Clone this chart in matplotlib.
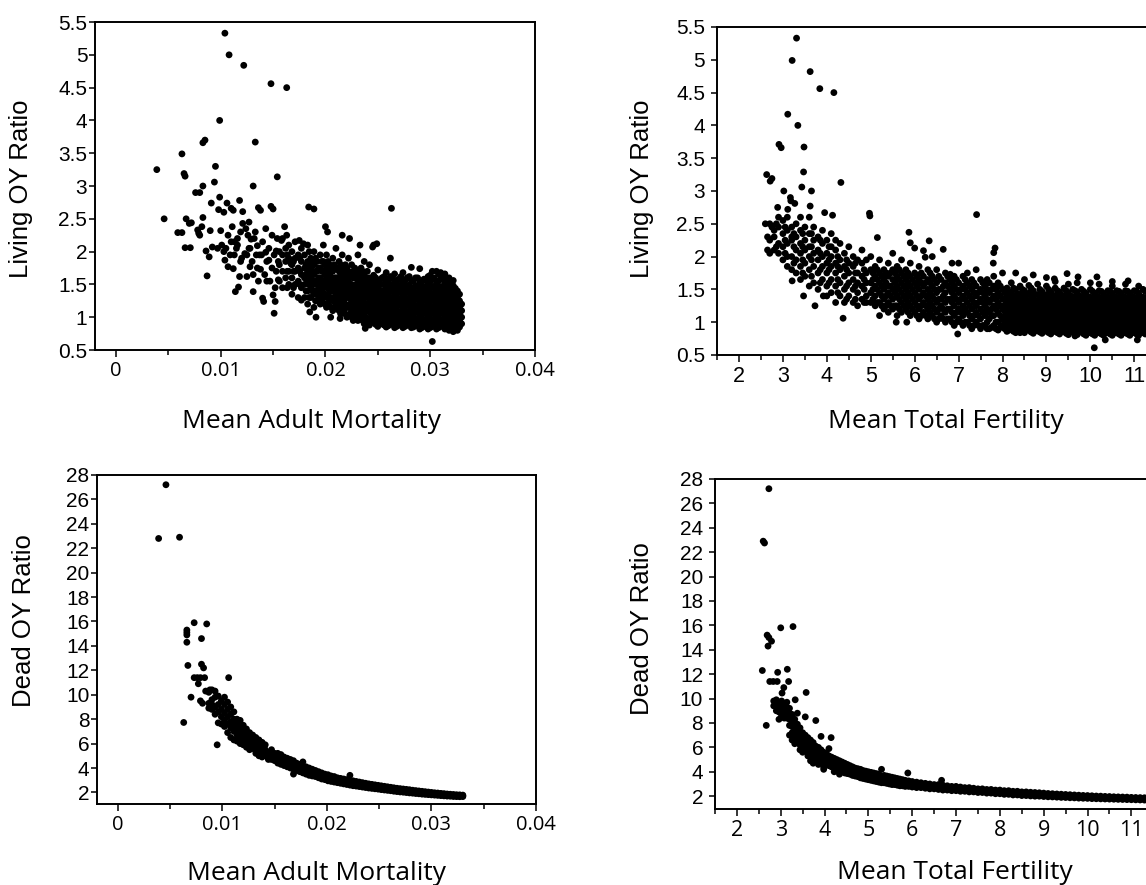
import matplotlib
matplotlib.use('Agg')
import matplotlib.pyplot as plt
from matplotlib.ticker import FixedLocator, MultipleLocator

# ---------------- data ----------------
# top-left: mean adult mortality vs living OY ratio (scattered points)
mort_liv_x = [0.0039, 0.0046, 0.0059, 0.0063, 0.0063, 0.0065, 0.0066, 0.0066, 0.0071, 0.0067,
              0.0070, 0.0072, 0.0076, 0.0080, 0.0078, 0.0080, 0.0079, 0.0083, 0.0085, 0.0083,
              0.0083, 0.0082, 0.0087, 0.0086, 0.0089, 0.0090, 0.0091, 0.0094, 0.0095, 0.0092,
              0.0097, 0.0098, 0.0099, 0.0099, 0.0100, 0.0101, 0.0103, 0.0103, 0.0104, 0.0106,
              0.0104, 0.0107, 0.0108, 0.0110, 0.0112, 0.0111, 0.0112, 0.0114, 0.0117, 0.0115,
              0.0118, 0.0119, 0.0121, 0.0118, 0.0122, 0.0121, 0.0123, 0.0125, 0.0126, 0.0128,
              0.0129, 0.0131, 0.0131, 0.0133, 0.0133, 0.0135, 0.0136, 0.0138, 0.0138, 0.0140,
              0.0141, 0.0143, 0.0146, 0.0148, 0.0148, 0.0150, 0.0150, 0.0152, 0.0151, 0.0153,
              0.0154, 0.0155, 0.0158, 0.0161, 0.0163, 0.0163, 0.0167, 0.0175, 0.0179, 0.0177,
              0.0184, 0.0189, 0.0185, 0.0191, 0.0200, 0.0202, 0.0205, 0.0214, 0.0216, 0.0223,
              0.0233, 0.0245, 0.0249, 0.0263, 0.0262, 0.0238, 0.0302, 0.0116, 0.0109, 0.0127,
              0.0134, 0.0124, 0.0144, 0.0139, 0.0113, 0.0119, 0.0105,
              0.0125, 0.0128, 0.0130, 0.0132, 0.0135, 0.0137, 0.0140, 0.0142, 0.0144, 0.0146,
              0.0147, 0.0149, 0.0151, 0.0152, 0.0153, 0.0154, 0.0155, 0.0149, 0.0143, 0.0136,
              0.0131, 0.0127, 0.0120, 0.0116, 0.0110, 0.0107, 0.0113]
mort_liv_y = [3.25, 2.50, 2.29, 2.29, 3.49, 3.19, 3.15, 2.06, 2.06, 2.50,
              2.43, 2.44, 2.90, 2.90, 2.33, 2.25, 2.28, 3.66, 3.70, 3.00,
              2.52, 2.38, 1.63, 2.01, 1.92, 2.32, 2.74, 3.06, 3.30, 2.07,
              2.05, 2.64, 2.83, 4.00, 2.32, 2.10, 2.00, 2.60, 5.33, 2.74,
              1.87, 1.77, 5.00, 2.66, 2.63, 2.38, 1.74, 1.39, 1.46, 2.05,
              2.78, 2.30, 2.43, 1.62, 4.84, 2.61, 1.97, 1.62, 2.25, 1.77,
              2.19, 3.00, 1.39, 3.67, 2.30, 2.09, 2.67, 2.63, 1.73, 1.29,
              1.24, 1.99, 1.87, 4.56, 2.69, 2.65, 1.34, 1.24, 1.06, 2.01,
              3.14, 1.57, 2.17, 2.38, 4.50, 2.25, 1.82, 2.17, 2.12, 1.26,
              2.68, 2.65, 1.08, 1.00, 2.38, 2.30, 1.00, 0.98, 2.25, 2.20,
              2.10, 2.07, 2.12, 2.66, 1.90, 0.83, 0.63, 2.20, 1.95, 2.05,
              1.95, 2.35, 1.55, 1.95, 2.15, 1.85, 2.05,
              1.95, 2.05, 1.85, 2.20, 1.75, 1.95, 2.15, 1.65, 1.85, 2.05,
              1.55, 1.75, 1.95, 1.45, 1.70, 2.20, 1.85, 2.25, 2.35, 1.55,
              1.65, 2.45, 1.90, 2.10, 2.15, 2.25, 1.95]
# denser part, column by column (x, living ratios)
mort_liv_cols = [
    (0.0156, [1.55, 1.80, 2.00]), (0.0159, [1.45, 1.70, 1.95, 2.20]),
    (0.0162, [1.60, 1.85, 2.05]), (0.0165, [1.50, 1.70, 1.90, 2.10]),
    (0.0168, [1.35, 1.60, 1.80, 2.00]), (0.0171, [1.50, 1.70, 1.90, 2.15]),
    (0.0174, [1.30, 1.55, 1.75, 1.95]), (0.0177, [1.45, 1.65, 1.85, 2.05]),
    (0.0180, [1.30, 1.50, 1.60, 1.75, 1.95]), (0.0183, [1.20, 1.40, 1.55, 1.70, 1.85, 2.10]),
    (0.0186, [1.30, 1.45, 1.60, 1.75, 1.90]), (0.0189, [1.15, 1.35, 1.50, 1.65, 1.80, 2.00]),
    (0.0192, [1.25, 1.40, 1.55, 1.70, 1.85]), (0.0195, [1.20, 1.35, 1.50, 1.60, 1.75, 1.95]),
    (0.0198, [1.30, 1.45, 1.55, 1.70, 1.85, 2.10]), (0.0201, [1.15, 1.30, 1.45, 1.60, 1.75, 1.95]),
    (0.0204, [1.25, 1.40, 1.50, 1.65, 1.80]), (0.0207, [1.10, 1.25, 1.40, 1.55, 1.70, 1.90]),
    (0.0210, [1.20, 1.35, 1.50, 1.60, 1.75, 2.05]), (0.0213, [1.10, 1.25, 1.40, 1.55, 1.70, 1.85]),
    (0.0216, [1.15, 1.30, 1.45, 1.60, 1.75, 1.95]), (0.0219, [1.05, 1.20, 1.35, 1.50, 1.65, 1.80]),
    (0.0222, [1.15, 1.30, 1.40, 1.55, 1.70, 1.90]), (0.0225, [1.00, 1.10, 1.25, 1.40, 1.50, 1.65, 1.80]),
    (0.0228, [1.05, 1.20, 1.35, 1.45, 1.60, 1.75]), (0.0231, [0.95, 1.10, 1.25, 1.40, 1.55, 1.70, 1.95]),
    (0.0234, [1.00, 1.15, 1.30, 1.45, 1.60, 1.75]), (0.0237, [0.90, 1.05, 1.20, 1.35, 1.50, 1.65, 1.85]),
    (0.0240, [0.95, 1.10, 1.20, 1.30, 1.40, 1.55, 1.70]),
    (0.0242, [0.88, 0.98, 1.08, 1.18, 1.28, 1.38, 1.48, 1.60, 1.80]),
    (0.0246, [0.92, 1.02, 1.12, 1.22, 1.32, 1.42, 1.52, 1.64, 2.10]),
    (0.0250, [0.86, 0.96, 1.06, 1.16, 1.26, 1.36, 1.46, 1.56, 1.72]),
    (0.0254, [0.90, 1.00, 1.10, 1.20, 1.30, 1.40, 1.50, 1.60]),
    (0.0258, [0.85, 0.95, 1.05, 1.15, 1.25, 1.35, 1.45, 1.55, 1.68]),
    (0.0262, [0.90, 1.00, 1.10, 1.20, 1.30, 1.40, 1.50, 1.62]),
    (0.0266, [0.84, 0.94, 1.04, 1.14, 1.24, 1.34, 1.44, 1.54, 1.66]),
    (0.0270, [0.88, 0.98, 1.08, 1.18, 1.28, 1.38, 1.48, 1.58]),
    (0.0274, [0.84, 0.94, 1.04, 1.14, 1.24, 1.34, 1.44, 1.54, 1.68]),
    (0.0278, [0.88, 0.98, 1.08, 1.18, 1.28, 1.38, 1.48, 1.60]),
    (0.0282, [0.84, 0.94, 1.04, 1.14, 1.24, 1.34, 1.44, 1.56, 1.76]),
    (0.0286, [0.88, 0.98, 1.08, 1.18, 1.28, 1.38, 1.48, 1.60]),
    (0.0290, [0.82, 0.92, 1.02, 1.12, 1.22, 1.32, 1.42, 1.52, 1.74]),
    (0.0294, [0.86, 0.96, 1.06, 1.16, 1.26, 1.36, 1.46, 1.58]),
    (0.0298, [0.82, 0.92, 1.02, 1.12, 1.22, 1.32, 1.42, 1.52, 1.62]),
    (0.0302, [0.86, 0.96, 1.06, 1.16, 1.26, 1.36, 1.46, 1.58, 1.70]),
    (0.0306, [0.82, 0.92, 1.02, 1.12, 1.22, 1.32, 1.42, 1.52, 1.70]),
    (0.0310, [0.86, 0.96, 1.06, 1.16, 1.26, 1.36, 1.46, 1.58, 1.68]),
    (0.0314, [0.82, 0.92, 1.02, 1.12, 1.22, 1.32, 1.42, 1.52, 1.66]),
    (0.0318, [0.80, 0.90, 1.00, 1.10, 1.20, 1.30, 1.40, 1.50, 1.60]),
    (0.0322, [0.78, 0.88, 0.98, 1.08, 1.18, 1.28, 1.38, 1.48, 1.56]),
    (0.0326, [0.80, 0.90, 1.00, 1.10, 1.20, 1.30, 1.40]),
    (0.0330, [0.90, 1.00, 1.10, 1.20]),
]
# points lying between the columns above
mort_liv_fill = [
    (0.01635, [1.45, 1.70, 1.95]), (0.01695, [1.45, 1.70, 1.85]),
    (0.01755, [1.50, 1.70, 1.90]), (0.01815, [1.40, 1.65, 1.80]),
    (0.01845, [1.30, 1.50, 1.65, 1.80, 2.00]), (0.01875, [1.40, 1.55, 1.70, 1.85]),
    (0.01905, [1.25, 1.40, 1.55, 1.70, 1.90]), (0.01935, [1.30, 1.45, 1.60, 1.75]),
    (0.01965, [1.25, 1.40, 1.55, 1.70, 1.85]), (0.01995, [1.20, 1.35, 1.50, 1.65, 1.80]),
    (0.02025, [1.20, 1.35, 1.55, 1.70, 1.85]), (0.02055, [1.15, 1.30, 1.45, 1.60, 1.75]),
    (0.02085, [1.15, 1.30, 1.45, 1.60, 1.80]), (0.02115, [1.15, 1.30, 1.45, 1.60, 1.75]),
    (0.02145, [1.05, 1.20, 1.35, 1.50, 1.65, 1.80]), (0.02175, [1.10, 1.25, 1.40, 1.55, 1.70]),
    (0.02205, [1.00, 1.15, 1.30, 1.45, 1.60, 1.75]), (0.02235, [1.05, 1.20, 1.35, 1.50, 1.65]),
    (0.02265, [0.95, 1.15, 1.30, 1.45, 1.60, 1.70]), (0.02295, [1.00, 1.15, 1.30, 1.50, 1.65]),
    (0.02325, [1.05, 1.20, 1.35, 1.50, 1.65]), (0.02355, [0.95, 1.10, 1.25, 1.40, 1.55, 1.70]),
    (0.02385, [1.00, 1.15, 1.30, 1.45, 1.60]),
    (0.0244, [0.93, 1.03, 1.13, 1.23, 1.33, 1.43, 1.55]),
    (0.0248, [0.89, 0.99, 1.09, 1.19, 1.29, 1.39, 1.49, 1.60]),
    (0.0252, [0.91, 1.01, 1.11, 1.21, 1.31, 1.41, 1.51]),
    (0.0256, [0.88, 0.98, 1.08, 1.18, 1.28, 1.38, 1.50, 1.62]),
    (0.0260, [0.87, 0.97, 1.07, 1.17, 1.27, 1.37, 1.47, 1.57]),
    (0.0264, [0.89, 0.99, 1.09, 1.19, 1.29, 1.39, 1.49, 1.60]),
    (0.0268, [0.86, 0.96, 1.06, 1.16, 1.26, 1.36, 1.46, 1.56]),
    (0.0272, [0.89, 0.99, 1.09, 1.19, 1.29, 1.39, 1.49, 1.62]),
    (0.0276, [0.86, 0.96, 1.06, 1.16, 1.26, 1.36, 1.46, 1.56]),
    (0.0280, [0.89, 0.99, 1.09, 1.19, 1.29, 1.39, 1.49, 1.62]),
    (0.0284, [0.85, 0.95, 1.05, 1.15, 1.25, 1.35, 1.45, 1.55]),
    (0.0288, [0.87, 0.97, 1.07, 1.17, 1.27, 1.37, 1.47, 1.60]),
    (0.0292, [0.84, 0.94, 1.04, 1.14, 1.24, 1.34, 1.44, 1.54]),
    (0.0296, [0.87, 0.97, 1.07, 1.17, 1.27, 1.37, 1.47, 1.58]),
    (0.0300, [0.84, 0.94, 1.04, 1.14, 1.24, 1.34, 1.44, 1.54, 1.64]),
    (0.0304, [0.87, 0.97, 1.07, 1.17, 1.27, 1.37, 1.47, 1.60]),
    (0.0308, [0.84, 0.94, 1.04, 1.14, 1.24, 1.34, 1.44, 1.55, 1.66]),
    (0.0312, [0.87, 0.97, 1.07, 1.17, 1.27, 1.37, 1.47, 1.60]),
    (0.0316, [0.84, 0.94, 1.04, 1.14, 1.24, 1.34, 1.44, 1.55]),
    (0.0320, [0.83, 0.93, 1.03, 1.13, 1.23, 1.33, 1.43, 1.53]),
    (0.0324, [0.84, 0.94, 1.04, 1.14, 1.24, 1.34, 1.44]),
    (0.0328, [0.85, 0.95, 1.05, 1.15, 1.25, 1.35]),
]

# top-right: mean total fertility vs living OY ratio
fert_liv_x = [3.31, 3.21, 3.62, 3.84, 4.16, 3.11, 3.34, 2.91, 2.96, 3.48,
              2.63, 2.75, 2.71, 3.47, 4.32, 3.43, 3.65, 3.02, 3.17, 3.18,
              3.27, 2.88, 3.11, 3.62, 2.60, 2.75, 3.95, 4.13, 4.97, 4.98,
              7.41, 5.87, 5.15, 7.83, 7.80, 7.79, 6.81, 10.09, 4.37, 3.73,
              3.47, 3.21, 3.92, 5.58, 5.82, 6.98, 6.33, 6.65, 5.90, 6.00,
              6.20, 6.24, 6.85, 9.47, 9.18, 9.72, 10.15, 10.86, 11.10, 10.50,
              8.40, 9.65, 10.34, 11.07]
fert_liv_y = [5.33, 4.99, 4.82, 4.56, 4.50, 4.17, 4.00, 3.71, 3.66, 3.67,
              3.25, 3.19, 3.15, 3.29, 3.13, 3.06, 3.00, 3.00, 2.90, 2.85,
              2.81, 2.75, 2.72, 2.77, 2.50, 2.45, 2.67, 2.63, 2.66, 2.62,
              2.64, 2.37, 2.29, 2.13, 2.06, 1.90, 1.73, 0.61, 1.06, 1.25,
              1.40, 1.63, 1.40, 1.00, 1.00, 0.82, 2.24, 2.11, 2.21, 2.13,
              2.09, 1.99, 1.90, 1.74, 1.66, 1.69, 1.69, 1.63, 1.55, 1.62,
              0.84, 0.79, 0.73, 0.73]
fert_liv_cols = [
    (2.65, [2.30, 2.10]), (2.70, [2.50, 2.25, 2.05]), (2.80, [2.30, 2.10, 2.40]),
    (2.90, [2.20, 2.45, 2.05, 2.60]), (3.00, [1.95, 2.15, 2.35, 2.55]),
    (3.10, [2.00, 2.20, 2.40, 2.60, 1.85]), (3.20, [1.80, 2.00, 2.25, 2.45, 2.30]),
    (3.30, [1.75, 1.95, 2.10, 2.30, 2.50]), (3.40, [1.85, 2.05, 2.20, 2.40, 2.60, 1.65]),
    (3.50, [1.70, 1.90, 2.10, 2.25, 2.45]), (3.60, [1.55, 1.80, 2.00, 2.15, 2.35, 2.60]),
    (3.70, [1.60, 1.85, 2.05, 2.25, 2.45]), (3.80, [1.50, 1.75, 1.95, 2.10, 2.30]),
    (3.90, [1.65, 1.85, 2.00, 2.20, 2.40]), (4.00, [1.55, 1.75, 1.90, 2.05, 2.25, 1.40]),
    (4.10, [1.45, 1.65, 1.85, 2.00, 2.15, 2.35]), (4.20, [1.55, 1.75, 1.90, 2.10, 2.25, 1.30]),
    (4.30, [1.40, 1.60, 1.80, 1.95, 2.20]), (4.40, [1.50, 1.70, 1.85, 2.05, 1.30]),
    (4.50, [1.40, 1.60, 1.75, 1.90, 2.15]), (4.60, [1.30, 1.50, 1.65, 1.85, 2.00]),
    (4.70, [1.45, 1.60, 1.75, 1.95, 1.25]), (4.80, [1.35, 1.55, 1.70, 1.90, 2.10]),
    (4.90, [1.40, 1.60, 1.75, 1.95, 1.30]), (5.00, [1.30, 1.45, 1.60, 1.80, 2.00]),
    (5.10, [1.25, 1.40, 1.55, 1.70, 1.85]), (5.20, [1.30, 1.45, 1.60, 1.75, 1.95, 1.10]),
    (5.30, [1.20, 1.35, 1.50, 1.65, 1.80]), (5.40, [1.30, 1.45, 1.55, 1.70, 1.90, 1.15]),
    (5.50, [1.20, 1.35, 1.50, 1.65, 1.80, 2.05]), (5.60, [1.25, 1.40, 1.55, 1.70, 1.85, 1.10]),
    (5.70, [1.15, 1.30, 1.45, 1.60, 1.75, 1.95]), (5.80, [1.20, 1.35, 1.50, 1.65, 1.80]),
    (5.90, [1.10, 1.25, 1.40, 1.55, 1.70, 1.90]), (6.00, [1.15, 1.30, 1.45, 1.60, 1.75]),
    (6.10, [1.05, 1.20, 1.35, 1.50, 1.65, 1.85]), (6.20, [1.15, 1.30, 1.45, 1.55, 1.70]),
    (6.30, [1.05, 1.20, 1.35, 1.50, 1.65, 1.80]), (6.40, [1.10, 1.25, 1.40, 1.55, 1.70, 2.00]),
    (6.50, [1.00, 1.15, 1.30, 1.45, 1.60, 1.80]), (6.60, [1.10, 1.25, 1.35, 1.50, 1.65]),
    (6.70, [1.00, 1.15, 1.30, 1.45, 1.60, 1.75]), (6.80, [1.05, 1.20, 1.35, 1.50, 1.65]),
    (6.90, [0.95, 1.10, 1.25, 1.40, 1.55, 1.70]), (7.00, [1.05, 1.20, 1.30, 1.45, 1.60, 1.90]),
    (7.10, [0.95, 1.10, 1.25, 1.40, 1.55, 1.70]), (7.20, [1.00, 1.15, 1.30, 1.45, 1.60, 1.75]),
    (7.30, [0.90, 1.05, 1.20, 1.35, 1.50, 1.65]), (7.40, [1.00, 1.15, 1.25, 1.40, 1.55, 1.80]),
    (7.50, [0.90, 1.05, 1.20, 1.35, 1.50, 1.65]), (7.60, [0.95, 1.10, 1.25, 1.40, 1.55]),
    (7.70, [0.90, 1.05, 1.15, 1.30, 1.45, 1.60]), (7.80, [0.95, 1.10, 1.25, 1.40, 1.55, 1.70]),
    (7.90, [0.88, 1.00, 1.15, 1.30, 1.45, 1.60]), (8.00, [0.95, 1.05, 1.20, 1.35, 1.50, 1.75]),
    (8.10, [0.86, 0.95, 1.04, 1.13, 1.22, 1.31, 1.40, 1.52]),
    (8.20, [0.90, 0.99, 1.08, 1.17, 1.26, 1.35, 1.46, 1.60]),
    (8.30, [0.84, 0.93, 1.02, 1.11, 1.20, 1.29, 1.38, 1.50, 1.75]),
    (8.40, [0.88, 0.97, 1.06, 1.15, 1.24, 1.33, 1.42, 1.55]),
    (8.50, [0.84, 0.93, 1.02, 1.11, 1.20, 1.29, 1.38, 1.48, 1.65]),
    (8.60, [0.88, 0.97, 1.06, 1.15, 1.24, 1.33, 1.44, 1.56]),
    (8.70, [0.83, 0.92, 1.01, 1.10, 1.19, 1.28, 1.37, 1.48, 1.72]),
    (8.80, [0.87, 0.96, 1.05, 1.14, 1.23, 1.32, 1.42, 1.58]),
    (8.90, [0.83, 0.92, 1.01, 1.10, 1.19, 1.28, 1.37, 1.47]),
    (9.00, [0.87, 0.96, 1.05, 1.14, 1.23, 1.32, 1.42, 1.55, 1.68]),
    (9.10, [0.82, 0.91, 1.00, 1.09, 1.18, 1.27, 1.36, 1.46]),
    (9.20, [0.86, 0.95, 1.04, 1.13, 1.22, 1.31, 1.40, 1.52, 1.62]),
    (9.30, [0.82, 0.91, 1.00, 1.09, 1.18, 1.27, 1.36, 1.46]),
    (9.40, [0.86, 0.95, 1.04, 1.13, 1.22, 1.31, 1.40, 1.52]),
    (9.50, [0.81, 0.90, 0.99, 1.08, 1.17, 1.26, 1.35, 1.45, 1.58]),
    (9.60, [0.85, 0.94, 1.03, 1.12, 1.21, 1.30, 1.39, 1.50]),
    (9.70, [0.81, 0.90, 0.99, 1.08, 1.17, 1.26, 1.35, 1.46, 1.60]),
    (9.80, [0.85, 0.94, 1.03, 1.12, 1.21, 1.30, 1.39, 1.50]),
    (9.90, [0.80, 0.89, 0.98, 1.07, 1.16, 1.25, 1.34, 1.44]),
    (10.00, [0.84, 0.93, 1.02, 1.11, 1.20, 1.29, 1.38, 1.50, 1.60]),
    (10.10, [0.80, 0.89, 0.98, 1.07, 1.16, 1.25, 1.34, 1.44]),
    (10.20, [0.84, 0.93, 1.02, 1.11, 1.20, 1.29, 1.38, 1.48, 1.58]),
    (10.30, [0.80, 0.89, 0.98, 1.07, 1.16, 1.25, 1.34, 1.44]),
    (10.40, [0.84, 0.93, 1.02, 1.11, 1.20, 1.29, 1.38, 1.48]),
    (10.50, [0.80, 0.89, 0.98, 1.07, 1.16, 1.25, 1.34, 1.44, 1.55]),
    (10.60, [0.84, 0.93, 1.02, 1.11, 1.20, 1.29, 1.38, 1.48]),
    (10.70, [0.80, 0.89, 0.98, 1.07, 1.16, 1.25, 1.34, 1.44]),
    (10.80, [0.84, 0.93, 1.02, 1.11, 1.20, 1.29, 1.38, 1.48, 1.58]),
    (10.90, [0.80, 0.89, 0.98, 1.07, 1.16, 1.25, 1.34, 1.44]),
    (11.00, [0.84, 0.93, 1.02, 1.11, 1.20, 1.29, 1.38, 1.48]),
    (11.10, [0.80, 0.89, 0.98, 1.07, 1.16, 1.25, 1.34, 1.44]),
    (11.20, [0.84, 0.93, 1.02, 1.11, 1.20, 1.29, 1.38, 1.50]),
    (11.30, [0.82, 0.91, 1.00, 1.09, 1.18, 1.27, 1.36, 1.46]),
    (11.40, [0.86, 0.95, 1.04, 1.13, 1.22, 1.31, 1.40]),
]
fert_liv_fill = [
    (2.85, [2.15, 2.50]), (3.05, [2.05, 2.25, 2.45]), (3.25, [1.90, 2.15, 2.35]),
    (3.45, [1.75, 1.95, 2.15, 2.35]), (3.65, [1.70, 1.95, 2.15, 2.35]),
    (3.85, [1.60, 1.80, 2.05, 2.25]), (4.05, [1.60, 1.80, 1.95, 2.15]),
    (4.25, [1.45, 1.65, 1.85, 2.00]), (4.45, [1.35, 1.55, 1.80, 1.95]),
    (4.65, [1.35, 1.55, 1.75, 1.90]), (4.85, [1.30, 1.50, 1.65, 1.80]),
    (5.05, [1.35, 1.50, 1.65, 1.75]), (5.15, [1.30, 1.50, 1.65, 1.80]), (5.25, [1.25, 1.40, 1.55, 1.70]),
    (5.35, [1.25, 1.40, 1.60, 1.75]), (5.45, [1.25, 1.40, 1.55, 1.75]), (5.55, [1.25, 1.45, 1.60, 1.75]),
    (5.65, [1.20, 1.35, 1.50, 1.65, 1.80]), (5.75, [1.25, 1.40, 1.55, 1.70]),
    (5.85, [1.15, 1.30, 1.45, 1.60, 1.75]), (5.95, [1.20, 1.35, 1.50, 1.65]),
    (6.05, [1.10, 1.25, 1.40, 1.55, 1.70]), (6.15, [1.10, 1.25, 1.40, 1.60, 1.75]),
    (6.25, [1.10, 1.25, 1.40, 1.60]), (6.35, [1.15, 1.30, 1.45, 1.60, 1.75]),
    (6.45, [1.05, 1.20, 1.35, 1.50, 1.65]), (6.55, [1.05, 1.20, 1.35, 1.50, 1.70]),
    (6.65, [1.05, 1.20, 1.40, 1.55]), (6.75, [1.05, 1.20, 1.35, 1.55, 1.70]),
    (6.85, [1.00, 1.15, 1.30, 1.45, 1.60]), (6.95, [1.00, 1.15, 1.35, 1.50, 1.65]),
    (7.05, [1.00, 1.15, 1.35, 1.50]), (7.15, [1.00, 1.20, 1.35, 1.50, 1.65]),
    (7.25, [0.95, 1.10, 1.25, 1.40, 1.55]), (7.35, [0.95, 1.10, 1.30, 1.45, 1.60]),
    (7.45, [0.95, 1.10, 1.30, 1.45]), (7.55, [0.95, 1.15, 1.30, 1.45, 1.60]),
    (7.65, [0.90, 1.00, 1.20, 1.35, 1.50, 1.65]), (7.75, [0.92, 1.10, 1.20, 1.35, 1.50]),
    (7.85, [0.90, 1.00, 1.20, 1.35, 1.50]), (7.95, [0.92, 1.10, 1.25, 1.40, 1.55]),
    (8.05, [0.90, 0.99, 1.08, 1.17, 1.26, 1.35, 1.45]),
    (8.15, [0.88, 0.97, 1.06, 1.15, 1.24, 1.33, 1.44]),
    (8.25, [0.86, 0.95, 1.04, 1.13, 1.22, 1.31, 1.41, 1.52]),
    (8.35, [0.88, 0.97, 1.06, 1.15, 1.24, 1.33, 1.43]),
    (8.45, [0.86, 0.95, 1.04, 1.13, 1.22, 1.31, 1.40, 1.50]),
    (8.55, [0.88, 0.97, 1.06, 1.15, 1.24, 1.33, 1.42]),
    (8.65, [0.85, 0.94, 1.03, 1.12, 1.21, 1.30, 1.40, 1.52]),
    (8.75, [0.87, 0.96, 1.05, 1.14, 1.23, 1.32, 1.42]),
    (8.85, [0.85, 0.94, 1.03, 1.12, 1.21, 1.30, 1.40, 1.50]),
    (8.95, [0.86, 0.95, 1.04, 1.13, 1.22, 1.31, 1.41]),
    (9.05, [0.84, 0.93, 1.02, 1.11, 1.20, 1.29, 1.39, 1.50]),
    (9.15, [0.86, 0.95, 1.04, 1.13, 1.22, 1.31, 1.41]),
    (9.25, [0.84, 0.93, 1.02, 1.11, 1.20, 1.29, 1.38, 1.48]),
    (9.35, [0.86, 0.95, 1.04, 1.13, 1.22, 1.31, 1.41]),
    (9.45, [0.83, 0.92, 1.01, 1.10, 1.19, 1.28, 1.38, 1.48]),
    (9.55, [0.85, 0.94, 1.03, 1.12, 1.21, 1.30, 1.40]),
    (9.65, [0.83, 0.92, 1.01, 1.10, 1.19, 1.28, 1.38, 1.48]),
    (9.75, [0.85, 0.94, 1.03, 1.12, 1.21, 1.30, 1.40]),
    (9.85, [0.82, 0.91, 1.00, 1.09, 1.18, 1.27, 1.37, 1.47]),
    (9.95, [0.84, 0.93, 1.02, 1.11, 1.20, 1.29, 1.39]),
    (10.05, [0.82, 0.91, 1.00, 1.09, 1.18, 1.27, 1.37, 1.47]),
    (10.15, [0.84, 0.93, 1.02, 1.11, 1.20, 1.29, 1.39]),
    (10.25, [0.82, 0.91, 1.00, 1.09, 1.18, 1.27, 1.37, 1.47]),
    (10.35, [0.84, 0.93, 1.02, 1.11, 1.20, 1.29, 1.39]),
    (10.45, [0.82, 0.91, 1.00, 1.09, 1.18, 1.27, 1.37, 1.47]),
    (10.55, [0.84, 0.93, 1.02, 1.11, 1.20, 1.29, 1.39]),
    (10.65, [0.82, 0.91, 1.00, 1.09, 1.18, 1.27, 1.37, 1.47]),
    (10.75, [0.84, 0.93, 1.02, 1.11, 1.20, 1.29, 1.39]),
    (10.85, [0.82, 0.91, 1.00, 1.09, 1.18, 1.27, 1.37, 1.47]),
    (10.95, [0.84, 0.93, 1.02, 1.11, 1.20, 1.29, 1.39]),
    (11.05, [0.82, 0.91, 1.00, 1.09, 1.18, 1.27, 1.37, 1.47]),
    (11.15, [0.84, 0.93, 1.02, 1.11, 1.20, 1.29, 1.39]),
    (11.25, [0.82, 0.91, 1.00, 1.09, 1.18, 1.27, 1.37, 1.47]),
    (11.35, [0.84, 0.93, 1.02, 1.11, 1.20, 1.29, 1.39]),
]

# bottom-left: mean adult mortality vs dead OY ratio
mort_dead_x = [0.0039, 0.0046, 0.0059, 0.0063, 0.0066, 0.0066, 0.0066, 0.0066, 0.0067, 0.0070,
               0.0073, 0.0080, 0.0085, 0.0080, 0.0082, 0.0073, 0.0076, 0.0079, 0.0083, 0.0077,
               0.0106, 0.0095, 0.0081, 0.0084, 0.0079, 0.0088]
mort_dead_y = [22.8, 27.2, 22.9, 7.73, 15.1, 15.3, 14.9, 14.3, 12.4, 9.8,
               15.9, 14.6, 15.8, 12.5, 12.2, 11.4, 11.4, 11.4, 11.4, 10.9,
               11.4, 5.9, 9.3, 10.3, 9.5, 10.4]
mort_dead_cols = [
    (0.0087, [9.3, 10.2, 8.9]), (0.0090, [9.6, 10.4, 8.8, 9.2]),
    (0.0093, [9.0, 9.8, 10.3, 8.4]), (0.0096, [8.6, 9.2, 9.9, 7.7]),
    (0.0099, [8.2, 8.8, 9.5, 7.6]), (0.0102, [7.9, 8.5, 9.2, 9.8, 7.4]),
    (0.0105, [7.6, 8.2, 8.8, 9.4, 6.9]), (0.0108, [7.3, 7.8, 8.4, 9.0, 6.5]),
    (0.0111, [7.0, 7.5, 8.0, 8.6, 6.3]), (0.0114, [6.7, 7.2, 7.7, 6.2, 8.0]),
    (0.0117, [6.4, 6.9, 7.4, 6.0, 7.9]), (0.0120, [6.2, 6.6, 7.1, 7.5, 5.9]),
    (0.0123, [6.0, 6.4, 6.8, 7.2, 5.7]), (0.0126, [5.8, 6.1, 6.5, 6.9, 5.5]),
    (0.0129, [5.6, 5.9, 6.3, 6.7]), (0.0132, [5.4, 5.7, 6.0, 6.5, 5.2]),
    (0.0135, [5.3, 5.5, 5.8, 6.3, 5.0]), (0.0138, [5.1, 5.4, 5.7, 6.1, 4.9]),
    (0.0141, [5.0, 5.2, 5.5, 5.9]), (0.0144, [4.8, 5.1, 5.3, 4.7]),
    (0.0147, [4.7, 4.9, 5.2, 5.5]), (0.0150, [4.6, 4.8, 5.0, 5.2]),
    (0.0153, [4.4, 4.7, 4.9, 5.2]), (0.0156, [4.3, 4.6, 4.8, 5.1]),
    (0.0159, [4.2, 4.4, 4.7, 4.9]), (0.0162, [4.1, 4.3, 4.5, 4.8]),
    (0.0165, [4.0, 4.2, 4.4, 4.7]), (0.0168, [3.5, 3.9, 4.1, 4.3, 4.6]),
    (0.0171, [3.8, 4.0, 4.2, 4.4]), (0.0174, [3.7, 3.9, 4.1, 4.3]),
    (0.0177, [3.6, 3.8, 4.0, 4.5]), (0.0180, [3.5, 3.7, 3.9, 4.1]),
    (0.0183, [3.4, 3.6, 3.8, 4.0]), (0.0186, [3.35, 3.5, 3.7, 3.9]),
    (0.0189, [3.3, 3.45, 3.6, 3.8]), (0.0192, [3.2, 3.35, 3.5, 3.7]),
    (0.0195, [3.1, 3.25, 3.4, 3.6]), (0.0198, [3.05, 3.2, 3.35, 3.5]),
    (0.0201, [2.95, 3.1, 3.25, 3.45]), (0.0204, [2.9, 3.05, 3.2, 3.35]),
    (0.0207, [2.85, 3.0, 3.15, 3.3]), (0.0210, [2.8, 2.95, 3.05, 3.2]),
    (0.0213, [2.75, 2.9, 3.0, 3.15]), (0.0216, [2.7, 2.85, 2.95, 3.1]),
    (0.0219, [2.65, 2.8, 2.9, 3.05]), (0.0222, [2.6, 2.75, 2.85, 3.0, 3.4]),
    (0.0225, [2.55, 2.7, 2.8, 2.95]), (0.0228, [2.52, 2.65, 2.75, 2.9]),
    (0.0231, [2.48, 2.6, 2.7, 2.85]), (0.0234, [2.44, 2.56, 2.66, 2.8]),
    (0.0237, [2.4, 2.52, 2.62, 2.75]), (0.0240, [2.36, 2.48, 2.58, 2.7]),
    (0.0243, [2.33, 2.44, 2.54, 2.66]), (0.0246, [2.3, 2.4, 2.5, 2.62]),
    (0.0249, [2.27, 2.37, 2.47, 2.58]), (0.0252, [2.23, 2.33, 2.43, 2.54]),
    (0.0255, [2.2, 2.3, 2.4, 2.5]), (0.0258, [2.17, 2.27, 2.36, 2.46]),
    (0.0261, [2.14, 2.23, 2.32, 2.42]), (0.0264, [2.1, 2.2, 2.29, 2.38]),
    (0.0267, [2.07, 2.16, 2.25, 2.34]), (0.0270, [2.04, 2.13, 2.22, 2.31]),
    (0.0273, [2.02, 2.1, 2.19, 2.28]), (0.0276, [1.99, 2.07, 2.16, 2.25]),
    (0.0279, [1.96, 2.04, 2.13, 2.22]), (0.0282, [1.94, 2.02, 2.1, 2.18]),
    (0.0285, [1.91, 1.99, 2.07, 2.15]), (0.0288, [1.89, 1.96, 2.04, 2.12]),
    (0.0291, [1.86, 1.94, 2.01, 2.09]), (0.0294, [1.84, 1.91, 1.98, 2.06]),
    (0.0297, [1.82, 1.89, 1.96, 2.03]), (0.0300, [1.8, 1.87, 1.93, 2.0]),
    (0.0303, [1.78, 1.84, 1.91, 1.97]), (0.0306, [1.76, 1.82, 1.88, 1.95]),
    (0.0309, [1.74, 1.8, 1.86, 1.92]), (0.0312, [1.72, 1.78, 1.84, 1.9]),
    (0.0315, [1.7, 1.76, 1.82, 1.87]), (0.0318, [1.69, 1.74, 1.8, 1.85]),
    (0.0321, [1.67, 1.72, 1.78, 1.83]), (0.0324, [1.66, 1.71, 1.76, 1.81]),
    (0.0327, [1.65, 1.7, 1.75, 1.8]), (0.0330, [1.66, 1.72, 1.78]),
]

# bottom-right: mean total fertility vs dead OY ratio
fert_dead_x = [2.73, 2.60, 2.63, 2.58, 2.67, 2.69, 2.73, 2.79, 2.71, 3.00,
               3.28, 2.93, 3.15, 3.18, 2.75, 2.83, 2.92, 3.07, 3.58, 3.03,
               3.33, 4.15, 3.92, 3.98, 2.96, 5.90, 6.67]
fert_dead_y = [27.2, 22.9, 22.75, 12.3, 7.8, 15.2, 15.0, 14.7, 14.3, 15.8,
               15.9, 12.15, 12.4, 11.4, 11.4, 11.4, 11.4, 10.9, 10.5, 10.45,
               9.9, 6.8, 6.9, 4.2, 8.3, 3.9, 3.3]
fert_dead_cols = [
    (2.84, [9.8, 9.4]), (2.90, [9.6, 9.0, 9.9]), (2.96, [9.3, 9.7, 8.9]),
    (3.02, [9.0, 9.5, 9.8, 8.6]), (3.08, [8.8, 9.2, 9.6, 8.4]),
    (3.14, [8.4, 8.8, 9.3, 9.7]), (3.20, [7.8, 8.3, 8.8, 9.2, 7.0]),
    (3.26, [7.2, 7.7, 8.2, 8.7, 6.6]), (3.32, [6.8, 7.3, 7.8, 8.3, 6.3]),
    (3.38, [6.5, 7.0, 7.4, 7.9, 8.8]), (3.44, [6.2, 6.7, 7.1, 7.6, 5.8]),
    (3.50, [6.0, 6.4, 6.8, 7.2, 5.6]), (3.56, [5.8, 6.2, 6.6, 7.0, 8.5]),
    (3.62, [5.6, 6.0, 6.4, 6.8, 5.3]), (3.68, [5.4, 5.8, 6.2, 6.6, 4.9]),
    (3.74, [5.3, 5.6, 6.0, 6.4, 4.7]), (3.80, [5.1, 5.5, 5.8, 6.1, 8.2]),
    (3.86, [5.0, 5.3, 5.6, 6.0, 4.6]), (3.92, [4.9, 5.2, 5.5, 5.8]),
    (3.98, [4.7, 5.0, 5.3, 5.6, 4.4]), (4.04, [4.6, 4.9, 5.2, 5.5]),
    (4.10, [4.5, 4.8, 5.0, 5.3, 5.9]), (4.16, [4.4, 4.7, 4.9, 5.2]),
    (4.22, [4.3, 4.5, 4.8, 5.1, 4.0]), (4.28, [4.2, 4.4, 4.7, 5.0]),
    (4.34, [4.1, 4.3, 4.6, 4.9, 3.8]), (4.40, [4.0, 4.3, 4.5, 4.8]),
    (4.46, [3.9, 4.2, 4.4, 4.7]), (4.52, [3.85, 4.1, 4.3, 4.6]),
    (4.58, [3.8, 4.0, 4.2, 4.5]), (4.64, [3.7, 3.95, 4.15, 4.4]),
    (4.70, [3.65, 3.9, 4.1, 4.3]), (4.76, [3.6, 3.8, 4.0, 4.25]),
    (4.82, [3.5, 3.75, 3.95, 4.2]), (4.88, [3.45, 3.7, 3.9, 4.1]),
    (4.94, [3.4, 3.65, 3.85, 4.05]), (5.00, [3.35, 3.6, 3.8, 4.0]),
    (5.06, [3.3, 3.55, 3.75, 3.95]), (5.12, [3.25, 3.5, 3.7, 3.9]),
    (5.18, [3.2, 3.45, 3.65, 3.85]), (5.24, [3.15, 3.4, 3.6, 3.8]),
    (5.30, [3.1, 3.35, 3.55, 4.2]), (5.36, [3.1, 3.3, 3.5, 3.7]),
    (5.42, [3.05, 3.25, 3.45, 3.65]), (5.48, [3.0, 3.2, 3.4, 3.6]),
    (5.54, [2.95, 3.15, 3.35, 3.55]), (5.60, [2.95, 3.1, 3.3, 3.5]),
    (5.66, [2.9, 3.05, 3.25, 3.45]), (5.72, [2.85, 3.05, 3.2, 3.4]),
    (5.78, [2.85, 3.0, 3.15, 3.35]), (5.84, [2.8, 2.95, 3.1, 3.3]),
    (5.92, [2.8, 2.95, 3.1, 3.25]), (6.00, [2.75, 2.9, 3.05, 3.2]),
    (6.10, [2.7, 2.85, 3.0, 3.15]), (6.20, [2.7, 2.85, 2.95, 3.1]),
    (6.30, [2.65, 2.8, 2.9, 3.05]), (6.40, [2.6, 2.75, 2.85, 3.0]),
    (6.50, [2.6, 2.7, 2.85, 2.95]), (6.60, [2.55, 2.7, 2.8, 2.95]),
    (6.70, [2.5, 2.65, 2.75, 2.9]), (6.80, [2.5, 2.6, 2.75, 2.85]),
    (6.90, [2.45, 2.6, 2.7, 2.8]), (7.00, [2.45, 2.55, 2.65, 2.8]),
    (7.10, [2.4, 2.55, 2.65, 2.75]), (7.20, [2.4, 2.5, 2.6, 2.7]),
    (7.30, [2.35, 2.45, 2.55, 2.7]), (7.40, [2.35, 2.45, 2.55, 2.65]),
    (7.50, [2.3, 2.4, 2.5, 2.6]), (7.60, [2.3, 2.4, 2.5, 2.6]),
    (7.70, [2.25, 2.35, 2.45, 2.55]), (7.80, [2.25, 2.35, 2.45, 2.55]),
    (7.90, [2.2, 2.3, 2.4, 2.5]), (8.00, [2.2, 2.3, 2.4, 2.5]),
    (8.10, [2.15, 2.25, 2.35, 2.45]), (8.20, [2.15, 2.25, 2.35, 2.45]),
    (8.30, [2.1, 2.2, 2.3, 2.4]), (8.40, [2.1, 2.2, 2.3, 2.4]),
    (8.50, [2.05, 2.15, 2.25, 2.35]), (8.60, [2.05, 2.15, 2.25, 2.35]),
    (8.70, [2.02, 2.12, 2.22, 2.32]), (8.80, [2.0, 2.1, 2.2, 2.3]),
    (8.90, [2.0, 2.08, 2.18, 2.28]), (9.00, [1.97, 2.06, 2.15, 2.25]),
    (9.10, [1.95, 2.04, 2.13, 2.22]), (9.20, [1.94, 2.02, 2.11, 2.2]),
    (9.30, [1.92, 2.0, 2.09, 2.18]), (9.40, [1.9, 1.98, 2.07, 2.16]),
    (9.50, [1.89, 1.97, 2.05, 2.14]), (9.60, [1.87, 1.95, 2.03, 2.12]),
    (9.70, [1.86, 1.94, 2.02, 2.1]), (9.80, [1.84, 1.92, 2.0, 2.08]),
    (9.90, [1.83, 1.91, 1.98, 2.06]), (10.00, [1.82, 1.89, 1.97, 2.05]),
    (10.10, [1.8, 1.88, 1.95, 2.03]), (10.20, [1.79, 1.86, 1.94, 2.01]),
    (10.30, [1.78, 1.85, 1.92, 2.0]), (10.40, [1.77, 1.84, 1.91, 1.98]),
    (10.50, [1.76, 1.83, 1.9, 1.97]), (10.60, [1.75, 1.82, 1.89, 1.95]),
    (10.70, [1.74, 1.81, 1.87, 1.94]), (10.80, [1.73, 1.8, 1.86, 1.93]),
    (10.90, [1.72, 1.79, 1.85, 1.92]), (11.00, [1.71, 1.78, 1.84, 1.9]),
    (11.10, [1.7, 1.77, 1.83, 1.89]), (11.20, [1.69, 1.76, 1.82, 1.88]),
    (11.30, [1.68, 1.75, 1.81, 1.87]), (11.40, [1.68, 1.74, 1.8, 1.86]),
]

mort_ticks = [0, 0.01, 0.02, 0.03, 0.04]
mort_labels = ['0', '0.01', '0.02', '0.03', '0.04']
fert_ticks = [2, 3, 4, 5, 6, 7, 8, 9, 10, 11, 12]
fert_labels = ['2', '3', '4', '5', '6', '7', '8', '9', '10', '11', '12']
liv_ticks = [0.5, 1, 1.5, 2, 2.5, 3, 3.5, 4, 4.5, 5, 5.5]
liv_labels = ['0.5', '1', '1.5', '2', '2.5', '3', '3.5', '4', '4.5', '5', '5.5']
dead_ticks = [2, 4, 6, 8, 10, 12, 14, 16, 18, 20, 22, 24, 26, 28]
dead_labels = [str(t) for t in dead_ticks]


def flatten(xs, ys, *col_sets):
    fx, fy = list(xs), list(ys)
    for cols in col_sets:
        for x, yv in cols:
            fx += [x] * len(yv)
            fy += yv
    return fx, fy


def style(ax, xticks, xlabels, xminor, xfam, xsize, yticks, ylabels, ypad):
    for s in ax.spines.values():
        s.set_linewidth(1.4)
    ax.xaxis.set_major_locator(FixedLocator(xticks))
    ax.set_xticklabels(xlabels, family=xfam, fontsize=xsize)
    ax.xaxis.set_minor_locator(MultipleLocator(xminor))
    ax.yaxis.set_major_locator(FixedLocator(yticks))
    ax.set_yticklabels(ylabels, family='Liberation Sans', fontsize=15)
    ax.tick_params(axis='both', which='both', direction='out', top=False, right=False,
                   color='black', width=1.1)
    ax.tick_params(axis='x', which='major', length=5, pad=3)
    ax.tick_params(axis='x', which='minor', length=3.5)
    ax.tick_params(axis='y', which='major', length=4.5, pad=ypad)


def labels(ax, xl, yl, xpos, ypos):
    ax.set_xlabel(xl, family='Open Sans', fontsize=19)
    ax.set_ylabel(yl, family='Liberation Sans', fontsize=18.5)
    ax.xaxis.label.set_va('baseline')
    ax.xaxis.set_label_coords(*xpos)
    ax.yaxis.label.set_va('center')
    ax.yaxis.set_label_coords(*ypos)


fig = plt.figure(figsize=(11.46, 8.85), dpi=100)
fig.patch.set_facecolor('white')

dot = dict(s=24, c='black', edgecolors='none', linewidths=0)

axA = fig.add_axes([0.0829, 0.6045, 0.3839, 0.3706])
x, y = flatten(mort_liv_x, mort_liv_y, mort_liv_cols, mort_liv_fill)
axA.scatter(x, y, **dot)
axA.set_xlim(-0.002, 0.04)
axA.set_ylim(0.5, 5.5)
style(axA, mort_ticks, mort_labels, 0.005, 'Open Sans', 14.5, liv_ticks, liv_labels, 1)
labels(axA, 'Mean Adult Mortality', 'Living OY Ratio', (0.492, -0.238), (-0.168, 0.491))

axB = fig.add_axes([0.6257, 0.5989, 0.4407, 0.3706])
x, y = flatten(fert_liv_x, fert_liv_y, fert_liv_cols, fert_liv_fill)
axB.scatter(x, y, **dot)
axB.set_xlim(1.5, 13.0)
axB.set_ylim(0.5, 5.5)
style(axB, fert_ticks, fert_labels, 0.5, 'Liberation Sans', 15.5, liv_ticks, liv_labels, 4)
labels(axB, 'Mean Total Fertility', 'Living OY Ratio', (0.453, -0.223), (-0.149, 0.506))

axC = fig.add_axes([0.0846, 0.0915, 0.3831, 0.3718])
x, y = flatten(mort_dead_x, mort_dead_y, mort_dead_cols)
axC.scatter(x, y, **dot)
axC.set_xlim(-0.002, 0.04)
axC.set_ylim(1.05, 28)
style(axC, mort_ticks, mort_labels, 0.005, 'Open Sans', 14.5, dead_ticks, dead_labels, 1)
labels(axC, 'Mean Adult Mortality', 'Dead OY Ratio', (0.499, -0.231), (-0.166, 0.559))

axD = fig.add_axes([0.6239, 0.0859, 0.4398, 0.3729])
x, y = flatten(fert_dead_x, fert_dead_y, fert_dead_cols)
axD.scatter(x, y, **dot)
axD.set_xlim(1.5, 13.0)
axD.set_ylim(0.95, 28)
style(axD, fert_ticks, fert_labels, 0.5, 'Open Sans', 15.5, dead_ticks, dead_labels, 4)
labels(axD, 'Mean Total Fertility', 'Dead OY Ratio', (0.476, -0.211), (-0.145, 0.548))

plt.savefig('out.png', dpi=100, facecolor='white')
